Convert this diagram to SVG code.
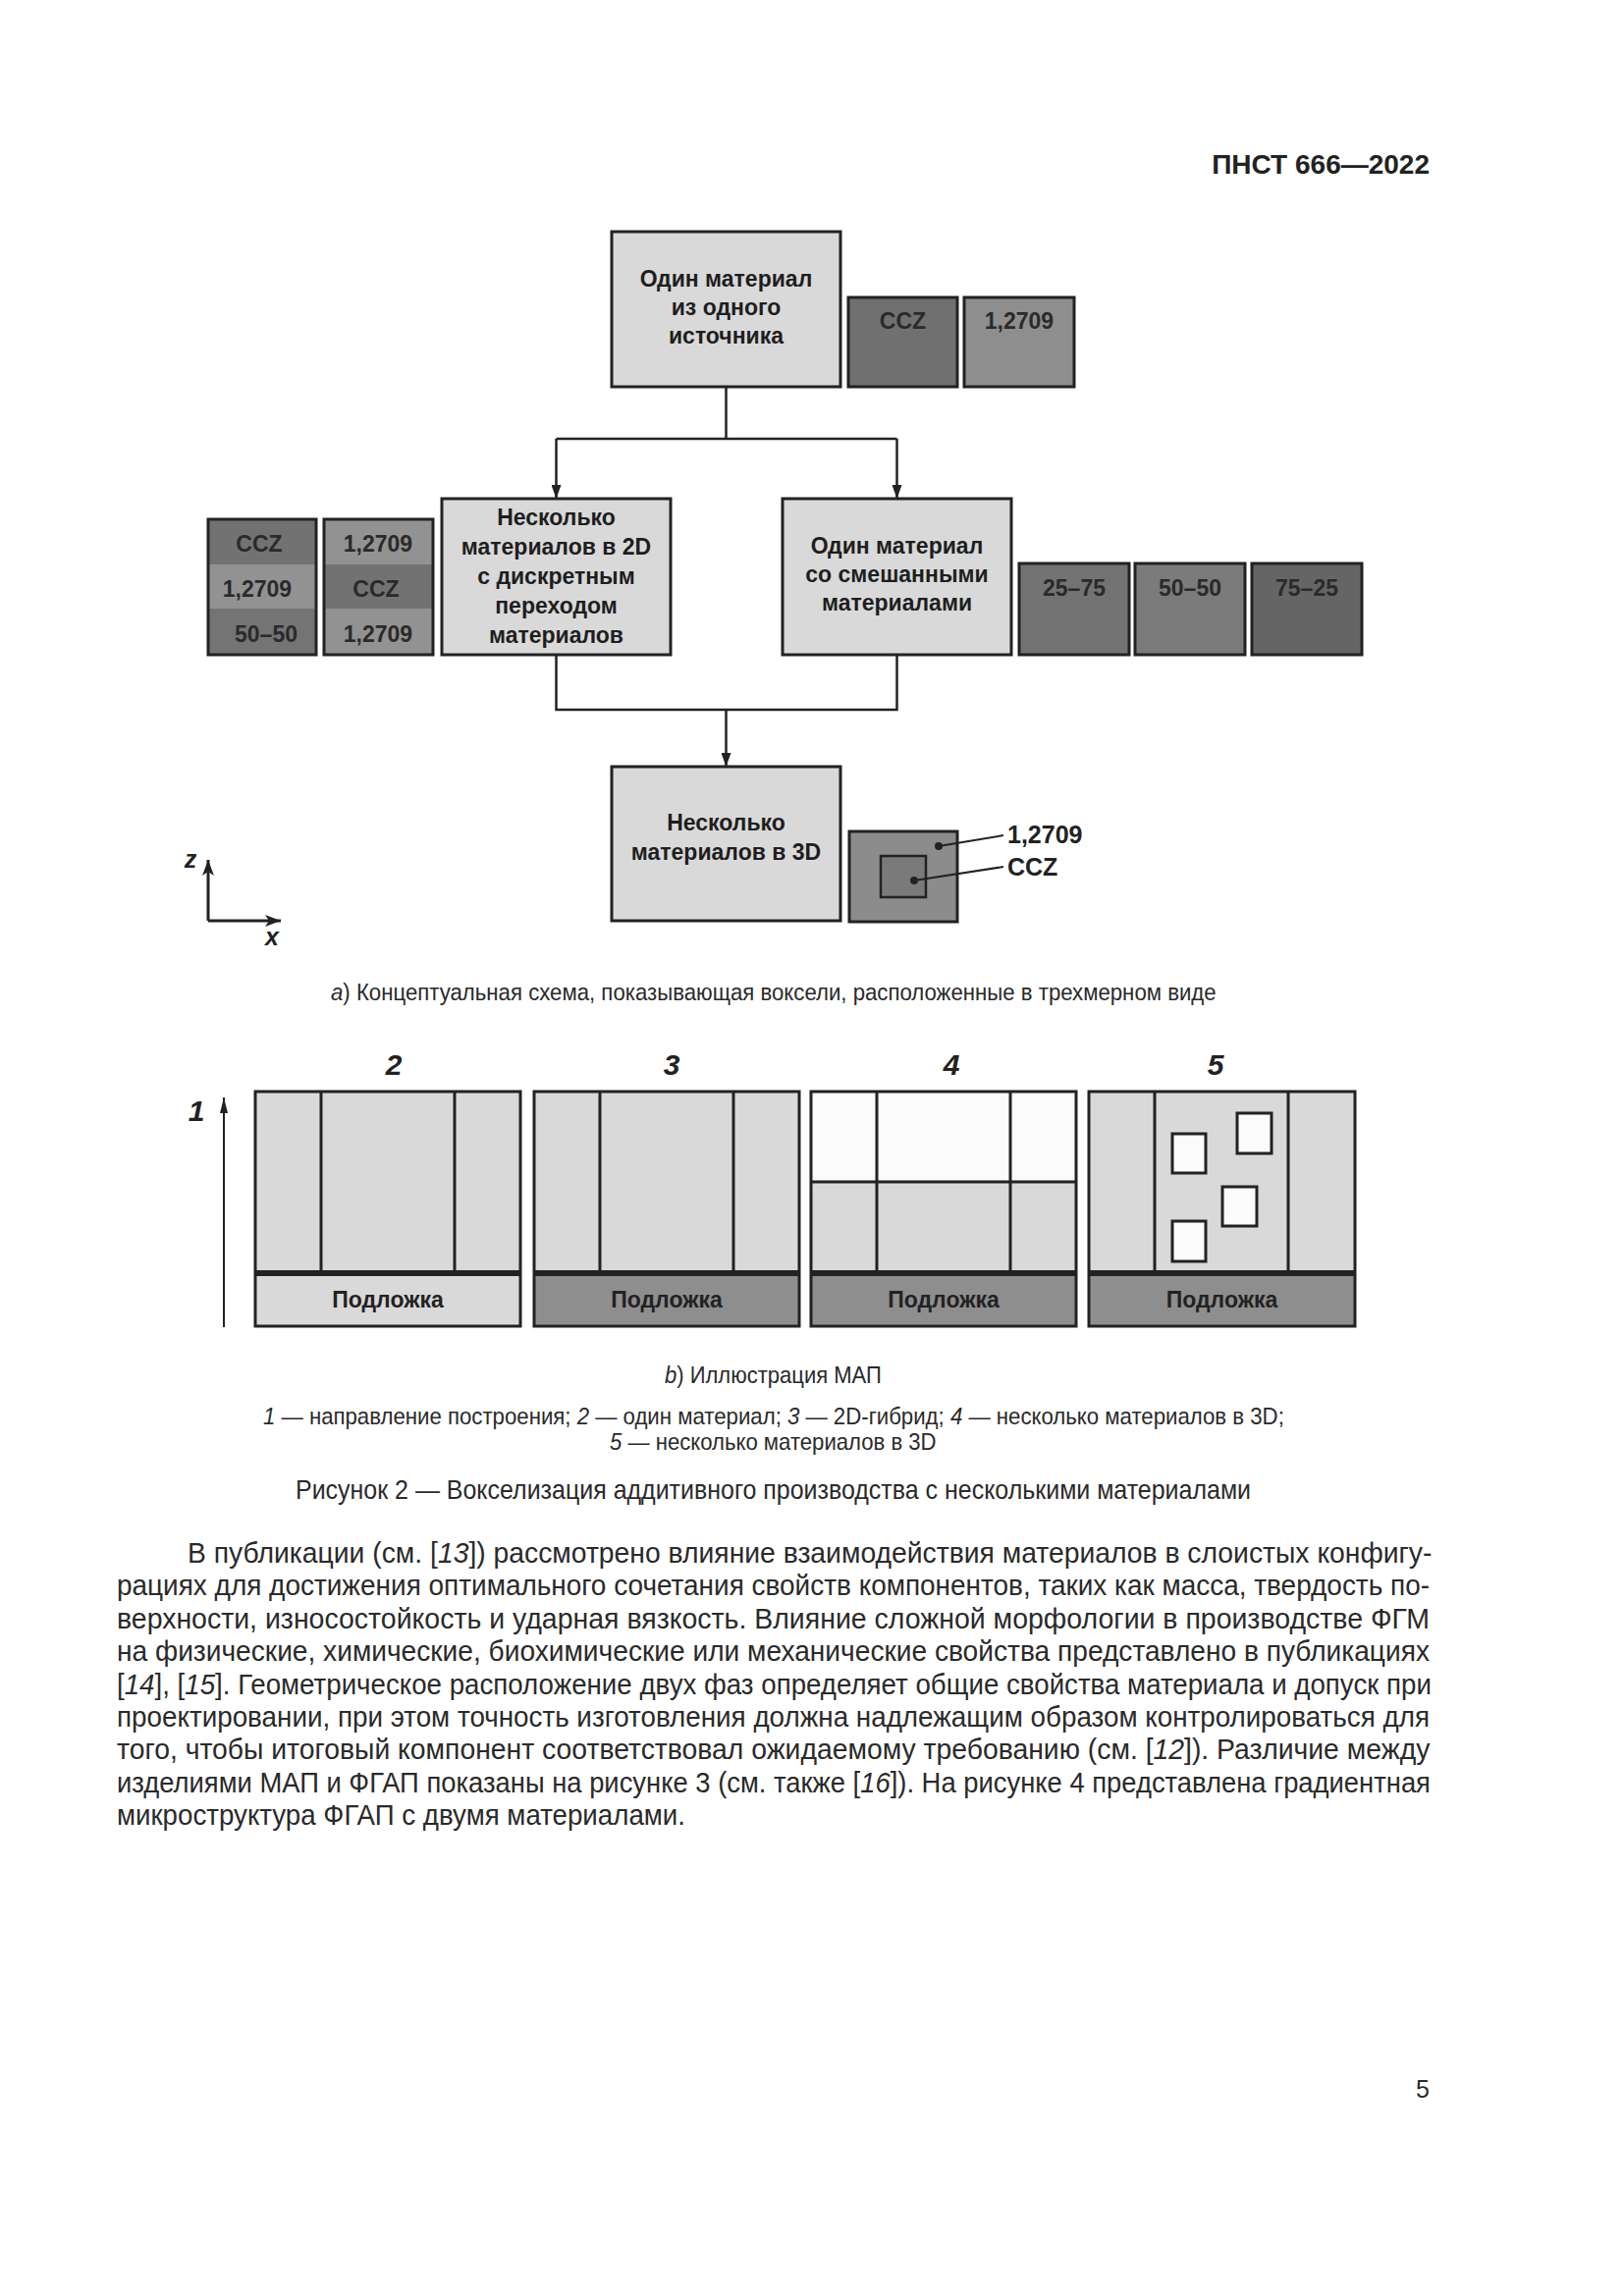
<svg xmlns="http://www.w3.org/2000/svg" width="1654" height="2339" viewBox="0 0 1654 2339">
<defs>
<marker id="arr" viewBox="0 0 14 10" markerWidth="14" markerHeight="10" refX="14" refY="5" orient="auto" markerUnits="userSpaceOnUse"><path d="M0,0 L14,5 L0,10 z" fill="#222"/></marker>
<marker id="arrAx" viewBox="0 0 16 12" markerWidth="16" markerHeight="12" refX="16" refY="6" orient="auto" markerUnits="userSpaceOnUse"><path d="M0,0 L16,6 L0,12 L4,6 z" fill="#222"/></marker>
<marker id="arrThin" viewBox="0 0 16 8" markerWidth="16" markerHeight="8" refX="16" refY="4" orient="auto" markerUnits="userSpaceOnUse"><path d="M0,0 L16,4 L0,8 z" fill="#222"/></marker>
<style>
.box{fill:#d9d9d9;stroke:#222;stroke-width:3}
.bt{font-family:"Liberation Sans",Arial,sans-serif;font-weight:bold;font-size:23px;fill:#1e1e1e;text-anchor:middle}
.gt{font-family:"Liberation Sans",Arial,sans-serif;font-weight:bold;font-size:23px;fill:#2a2a2a;text-anchor:middle}
.bd{stroke:#222;stroke-width:3;fill:none}
.ln{stroke:#222;stroke-width:2.5;fill:none}
.thin{stroke:#222;stroke-width:2;fill:none}
.cap{font-family:"Liberation Sans",Arial,sans-serif;font-size:24px;fill:#2a2a2a}
.body{font-family:"Liberation Sans",Arial,sans-serif;font-size:30px;fill:#2a2a2a}
.num{font-family:"Liberation Sans",Arial,sans-serif;font-weight:bold;font-style:italic;font-size:30px;fill:#222;text-anchor:middle}
.sub{font-family:"Liberation Sans",Arial,sans-serif;font-weight:bold;font-size:23px;fill:#222;text-anchor:middle}
.ax{font-family:"Liberation Sans",Arial,sans-serif;font-weight:bold;font-style:italic;font-size:25px;fill:#222;text-anchor:middle}
.i{font-style:italic}
</style>
</defs>
<rect x="0" y="0" width="1654" height="2339" fill="#ffffff"/>

<text x="1456" y="177" font-family="Liberation Sans, Arial, sans-serif" font-weight="bold" font-size="28" fill="#222" text-anchor="end">ПНСТ 666—2022</text>

<g id="connectors">
<path class="ln" d="M739.5,394 V447 M566.5,447 H913.5"/>
<path class="ln" d="M566.5,447 V508" marker-end="url(#arr)"/>
<path class="ln" d="M913.5,447 V508" marker-end="url(#arr)"/>
<path class="ln" d="M566.5,667 V723 H913.5 V667"/>
<path class="ln" d="M739.5,723 V781" marker-end="url(#arr)"/>
</g>

<g id="node-single-source">
<rect class="box" x="623" y="236" width="233" height="158"/>
<text class="bt" x="739.5" y="292">Один материал</text>
<text class="bt" x="739.5" y="321">из одного</text>
<text class="bt" x="739.5" y="350">источника</text>
</g>
<g id="swatch-top-ccz">
<rect x="864" y="303" width="111" height="91" fill="#707070" stroke="#222" stroke-width="3"/>
<text class="gt" x="919.5" y="335">CCZ</text>
</g>
<g id="swatch-top-12709">
<rect x="982" y="303" width="112" height="91" fill="#8e8e8e" stroke="#222" stroke-width="3"/>
<text class="gt" x="1038" y="335">1,2709</text>
</g>

<g id="node-2d-discrete">
<rect class="box" x="450" y="508" width="233" height="159"/>
<text class="bt" x="566.5" y="535">Несколько</text>
<text class="bt" x="566.5" y="565">материалов в 2D</text>
<text class="bt" x="566.5" y="595">с дискретным</text>
<text class="bt" x="566.5" y="625">переходом</text>
<text class="bt" x="566.5" y="655">материалов</text>
</g>
<g id="swatch-col1">
<rect x="212" y="529" width="110" height="46" fill="#727272"/>
<rect x="212" y="575" width="110" height="45" fill="#929292"/>
<rect x="212" y="620" width="110" height="47" fill="#747474"/>
<rect class="bd" x="212" y="529" width="110" height="138"/>
<text class="gt" x="264" y="562">CCZ</text>
<text class="gt" x="262" y="608">1,2709</text>
<text class="gt" x="271" y="654">50–50</text>
</g>
<g id="swatch-col2">
<rect x="330" y="529" width="111" height="46" fill="#929292"/>
<rect x="330" y="575" width="111" height="45" fill="#727272"/>
<rect x="330" y="620" width="111" height="47" fill="#929292"/>
<rect class="bd" x="330" y="529" width="111" height="138"/>
<text class="gt" x="385" y="562">1,2709</text>
<text class="gt" x="383" y="608">CCZ</text>
<text class="gt" x="385" y="654">1,2709</text>
</g>

<g id="node-blended">
<rect class="box" x="797" y="508" width="233" height="159"/>
<text class="bt" x="913.5" y="564">Один материал</text>
<text class="bt" x="913.5" y="593">со смешанными</text>
<text class="bt" x="913.5" y="622">материалами</text>
</g>
<g id="swatch-2575">
<rect x="1038" y="574" width="112" height="93" fill="#737373" stroke="#222" stroke-width="3"/>
<text class="gt" x="1094" y="607">25–75</text>
</g>
<g id="swatch-5050">
<rect x="1156" y="574" width="112" height="93" fill="#7b7b7b" stroke="#222" stroke-width="3"/>
<text class="gt" x="1212" y="607">50–50</text>
</g>
<g id="swatch-7525">
<rect x="1275" y="574" width="112" height="93" fill="#656565" stroke="#222" stroke-width="3"/>
<text class="gt" x="1331" y="607">75–25</text>
</g>

<g id="node-3d">
<rect class="box" x="623" y="781" width="233" height="157"/>
<text class="bt" x="739.5" y="846">Несколько</text>
<text class="bt" x="739.5" y="876">материалов в 3D</text>
</g>
<g id="swatch-3d">
<rect x="865" y="847" width="110" height="92" fill="#8c8c8c" stroke="#222" stroke-width="3"/>
<rect x="897" y="872" width="46" height="42" fill="#7a7a7a" stroke="#222" stroke-width="2.5"/>
<circle cx="956" cy="862" r="4" fill="#222"/>
<circle cx="931" cy="897" r="4" fill="#222"/>
<path class="thin" d="M956,862 L1022,851 M931,897 L1022,883"/>
<text x="1026" y="859" font-family="Liberation Sans, Arial, sans-serif" font-weight="bold" font-size="25" fill="#222">1,2709</text>
<text x="1026" y="892" font-family="Liberation Sans, Arial, sans-serif" font-weight="bold" font-size="25" fill="#222">CCZ</text>
</g>

<g id="axes">
<path d="M212,938 V876" stroke="#222" stroke-width="3" fill="none" marker-end="url(#arrAx)"/>
<path d="M212,938 H286" stroke="#222" stroke-width="3" fill="none" marker-end="url(#arrAx)"/>
<text class="ax" x="194" y="884">z</text>
<text class="ax" x="277" y="963">x</text>
</g>

<text class="cap" transform="translate(337,1019) scale(0.925,1)" x="0" y="0"><tspan class="i">a</tspan>) Концептуальная схема, показывающая воксели, расположенные в трехмерном виде</text>

<g id="build-direction">
<path d="M228,1352 V1118" stroke="#222" stroke-width="2" fill="none" marker-end="url(#arrThin)"/>
<text class="num" x="200" y="1142">1</text>
</g>

<g id="panel-2">
<text class="num" x="401" y="1095">2</text>
<rect x="260" y="1112" width="270" height="185" fill="#d9d9d9"/>
<rect x="260" y="1297" width="270" height="54" fill="#d9d9d9"/>
<path class="bd" d="M327,1112 V1297 M463,1112 V1297"/>
<rect class="bd" x="260" y="1112" width="270" height="239"/>
<path d="M260,1297 H530" stroke="#222" stroke-width="6"/>
<text class="sub" x="395" y="1332">Подложка</text>
</g>

<g id="panel-3">
<text class="num" x="684" y="1095">3</text>
<rect x="544" y="1112" width="270" height="185" fill="#d9d9d9"/>
<rect x="544" y="1297" width="270" height="54" fill="#8e8e8e"/>
<path class="bd" d="M611,1112 V1297 M747,1112 V1297"/>
<rect class="bd" x="544" y="1112" width="270" height="239"/>
<path d="M544,1297 H814" stroke="#222" stroke-width="6"/>
<text class="sub" x="679" y="1332">Подложка</text>
</g>

<g id="panel-4">
<text class="num" x="969" y="1095">4</text>
<rect x="826" y="1112" width="270" height="92" fill="#fbfbfb"/>
<rect x="826" y="1204" width="270" height="93" fill="#d9d9d9"/>
<rect x="826" y="1297" width="270" height="54" fill="#8e8e8e"/>
<path class="bd" d="M893,1112 V1297 M1029,1112 V1297 M826,1204 H1096"/>
<rect class="bd" x="826" y="1112" width="270" height="239"/>
<path d="M826,1297 H1096" stroke="#222" stroke-width="6"/>
<text class="sub" x="961" y="1332">Подложка</text>
</g>

<g id="panel-5">
<text class="num" x="1238" y="1095">5</text>
<rect x="1109" y="1112" width="271" height="185" fill="#d9d9d9"/>
<rect x="1109" y="1297" width="271" height="54" fill="#8e8e8e"/>
<path class="bd" d="M1176,1112 V1297 M1312,1112 V1297"/>
<rect x="1194" y="1155" width="34" height="40" fill="#fbfbfb" stroke="#222" stroke-width="3"/>
<rect x="1260" y="1134" width="35" height="41" fill="#fbfbfb" stroke="#222" stroke-width="3"/>
<rect x="1245" y="1209" width="35" height="40" fill="#fbfbfb" stroke="#222" stroke-width="3"/>
<rect x="1194" y="1244" width="34" height="41" fill="#fbfbfb" stroke="#222" stroke-width="3"/>
<rect class="bd" x="1109" y="1112" width="271" height="239"/>
<path d="M1109,1297 H1380" stroke="#222" stroke-width="6"/>
<text class="sub" x="1244.5" y="1332">Подложка</text>
</g>

<text class="cap" transform="translate(677,1409) scale(0.918,1)" x="0" y="0"><tspan class="i">b</tspan>) Иллюстрация МАП</text>
<text class="cap" transform="translate(268,1451) scale(0.9256,1)" x="0" y="0"><tspan class="i">1</tspan> — направление построения; <tspan class="i">2</tspan> — один материал; <tspan class="i">3</tspan> — 2D-гибрид; <tspan class="i">4</tspan> — несколько материалов в 3D;</text>
<text class="cap" transform="translate(621,1477) scale(0.922,1)" x="0" y="0"><tspan class="i">5</tspan> — несколько материалов в 3D</text>
<text x="301" y="1527" font-family="Liberation Sans, Arial, sans-serif" font-size="28" fill="#2a2a2a" textLength="973" lengthAdjust="spacingAndGlyphs">Рисунок 2 — Вокселизация аддитивного производства с несколькими материалами</text>

<g id="paragraph">
<text class="body" transform="translate(191,1592) scale(0.944,1)" x="0" y="0">В публикации (см. [<tspan class="i">13</tspan>]) рассмотрено влияние взаимодействия материалов в слоистых конфигу-</text>
<text class="body" x="119" y="1625" textLength="1337" lengthAdjust="spacingAndGlyphs">рациях для достижения оптимального сочетания свойств компонентов, таких как масса, твердость по-</text>
<text class="body" x="119" y="1659" textLength="1337" lengthAdjust="spacingAndGlyphs">верхности, износостойкость и ударная вязкость. Влияние сложной морфологии в производстве ФГМ</text>
<text class="body" x="119" y="1692" textLength="1337" lengthAdjust="spacingAndGlyphs">на физические, химические, биохимические или механические свойства представлено в публикациях</text>
<text class="body" transform="translate(119,1726) scale(0.923,1)" x="0" y="0">[<tspan class="i">14</tspan>], [<tspan class="i">15</tspan>]. Геометрическое расположение двух фаз определяет общие свойства материала и допуск при</text>
<text class="body" x="119" y="1759" textLength="1337" lengthAdjust="spacingAndGlyphs">проектировании, при этом точность изготовления должна надлежащим образом контролироваться для</text>
<text class="body" transform="translate(119,1792) scale(0.945,1)" x="0" y="0">того, чтобы итоговый компонент соответствовал ожидаемому требованию (см. [<tspan class="i">12</tspan>]). Различие между</text>
<text class="body" transform="translate(119,1826) scale(0.913,1)" x="0" y="0">изделиями МАП и ФГАП показаны на рисунке 3 (см. также [<tspan class="i">16</tspan>]). На рисунке 4 представлена градиентная</text>
<text class="body" x="119" y="1859" textLength="579" lengthAdjust="spacingAndGlyphs">микроструктура ФГАП с двумя материалами.</text>
</g>

<text x="1456" y="2137" font-family="Liberation Sans, Arial, sans-serif" font-size="25" fill="#2a2a2a" text-anchor="end">5</text>
</svg>
